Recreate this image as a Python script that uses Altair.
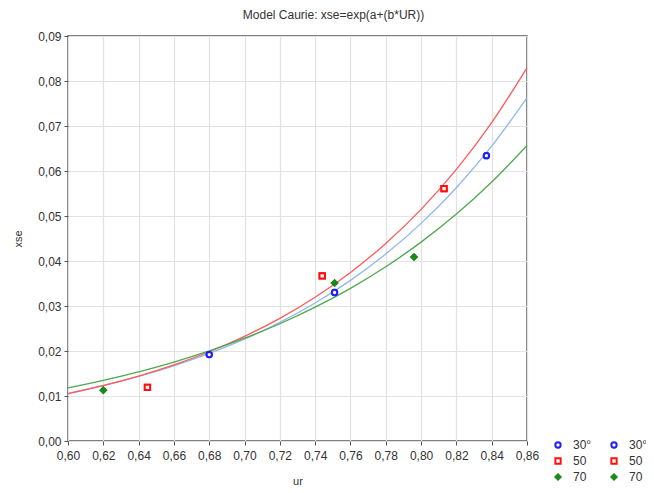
import altair as alt
import pandas as pd

# ---- data ----
series = ["30°", "50", "70"]

pt_x_30 = [0.680, 0.751, 0.837]
pt_y_30 = [0.0192, 0.0330, 0.0634]
pt_x_50 = [0.645, 0.744, 0.813]
pt_y_50 = [0.0119, 0.0367, 0.0561]
pt_x_70 = [0.620, 0.751, 0.796]
pt_y_70 = [0.0113, 0.0351, 0.0409]

curve_x = [0.60, 0.62, 0.64, 0.66, 0.68, 0.70, 0.72, 0.74, 0.76, 0.78, 0.80, 0.82, 0.84, 0.86]
curve_30 = [0.0106, 0.01234, 0.01436, 0.01671, 0.01945, 0.02264, 0.02635, 0.03067, 0.03570, 0.04155, 0.04836, 0.05629, 0.06551, 0.07625]
curve_50 = [0.0105, 0.01231, 0.01443, 0.01691, 0.01983, 0.02325, 0.02726, 0.03195, 0.03746, 0.04391, 0.05148, 0.06035, 0.07075, 0.08294]
curve_70 = [0.0118, 0.01347, 0.01537, 0.01754, 0.02001, 0.02284, 0.02606, 0.02974, 0.03393, 0.03872, 0.04419, 0.05042, 0.05754, 0.06566]

x_ticks = [0.60, 0.62, 0.64, 0.66, 0.68, 0.70, 0.72, 0.74, 0.76, 0.78, 0.80, 0.82, 0.84, 0.86]
y_ticks = [0.00, 0.01, 0.02, 0.03, 0.04, 0.05, 0.06, 0.07, 0.08, 0.09]

point_stroke = ["#1f1fff", "#ff1010", "#1a8a1a"]
point_fill = ["#ffffff", "#ffffff", "#1a8a1a"]
point_shape = ["circle", "square", "diamond"]
line_colors = ["#8fb8ea", "#ff5a5a", "#4fa84f"]

# ---- tables ----
pts_rows = []
for s, xs, ys in zip(series, [pt_x_30, pt_x_50, pt_x_70], [pt_y_30, pt_y_50, pt_y_70]):
    for x, y in zip(xs, ys):
        pts_rows.append({"ur": x, "xse": y, "series": s, "series2": s})
pts = pd.DataFrame(pts_rows)

curve_rows = []
for s, ys in zip(series, [curve_30, curve_50, curve_70]):
    for x, y in zip(curve_x, ys):
        curve_rows.append({"ur": x, "xse": y, "curve": s})
curves = pd.DataFrame(curve_rows)

fmt = "replace(format(datum.value, '.2f'), '.', ',')"

x_enc = alt.X("ur:Q", scale=alt.Scale(domain=[0.60, 0.86], nice=False, zero=False),
              axis=alt.Axis(values=x_ticks, labelExpr=fmt, title="ur", labelFlush=False))
y_enc = alt.Y("xse:Q", scale=alt.Scale(domain=[0.0, 0.09], nice=False),
              axis=alt.Axis(values=y_ticks, labelExpr=fmt, title="xse", labelFlush=False))

lines = alt.Chart(curves).mark_line(strokeWidth=1.3, interpolate="monotone").encode(
    x=x_enc, y=y_enc,
    color=alt.Color("curve:N", scale=alt.Scale(domain=series, range=line_colors), legend=None),
    detail="curve:N",
)

def point_layer(field, lx):
    leg = alt.Legend(title=None, orient="none", legendX=lx, legendY=403,
                     direction="vertical", symbolSize=28, symbolStrokeWidth=2,
                     labelFontSize=12, rowPadding=2, labelOffset=9, padding=0)
    return alt.Chart(pts).mark_point(size=28, strokeWidth=2, filled=False, opacity=1).encode(
        x=x_enc, y=y_enc,
        stroke=alt.Stroke(f"{field}:N", scale=alt.Scale(domain=series, range=point_stroke), legend=leg),
        fill=alt.Fill(f"{field}:N", scale=alt.Scale(domain=series, range=point_fill), legend=leg),
        shape=alt.Shape(f"{field}:N", scale=alt.Scale(domain=series, range=point_shape), legend=leg),
    )

chart = alt.layer(lines, point_layer("series", 484), point_layer("series2", 540)).resolve_scale(
    stroke="independent", fill="independent", shape="independent"
).resolve_legend(
    stroke="independent", fill="independent", shape="independent"
).properties(
    width=459, height=405,
    title=alt.TitleParams("Model Caurie: xse=exp(a+(b*UR))", fontSize=12, fontWeight="normal",
                          color="#333333", anchor="middle", dx=36, offset=8, font="Liberation Sans"),
    padding={"left": 60, "top": 28, "right": 119, "bottom": 44},
    autosize=alt.AutoSizeParams(type="none"),
).configure_view(
    stroke="#555555", strokeWidth=1.5
).configure_axis(
    labelFont="Liberation Sans", titleFont="Liberation Sans",
    labelFontSize=12, titleFontSize=11, titleFontWeight="normal",
    labelColor="#333333", titleColor="#333333",
    grid=True, gridColor="#e2e2e2", gridWidth=1.2,
    domain=False, tickColor="#555555", tickSize=4,
).configure_axisX(
    labelPadding=5, titlePadding=14
).configure_axisY(
    labelPadding=3, titlePadding=14
).configure_legend(
    labelFont="Liberation Sans", labelColor="#333333"
)

chart.save("out.html", embed_options={"renderer": "svg", "actions": False})
